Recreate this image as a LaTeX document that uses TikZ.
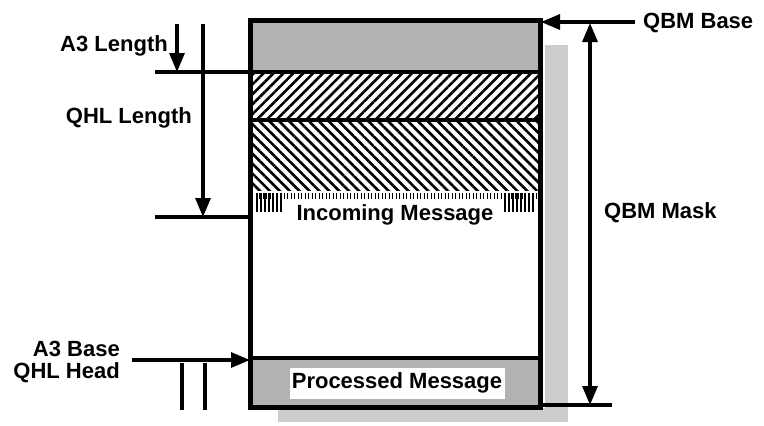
\documentclass[tikz,border=0pt]{standalone}
\usepackage{fontspec}
\setmainfont{Liberation Sans}
\usetikzlibrary{arrows.meta,patterns.meta}

\begin{document}
\begin{tikzpicture}[
  x=1pt, y=-1pt,
  lbl/.style={font=\bfseries\fontsize{22}{22}\selectfont, inner sep=0pt},
  dim/.style={line width=3.2pt},
  arr/.style={dim, -{Triangle[length=19pt,width=15pt]}},
  darr/.style={dim, {Triangle[length=19pt,width=15pt]}-{Triangle[length=19pt,width=15pt]}},
  band/.style={fill=gray!60},
  shade/.style={fill=gray!40},
  tick/.style={line width=1pt}
]
  \useasboundingbox (0,0) rectangle (764,426);

  % Shadow
  \fill[shade] (545,45) rectangle (568,422);
  \fill[shade] (278,408) rectangle (568,422);

  % Bands
  \fill[band] (250,20) rectangle (540,72);
  \fill[pattern={Lines[angle=45,distance=7pt,line width=2.6pt]}] (250,72) rectangle (540,120);
  \fill[pattern={Lines[angle=-45,distance=7pt,line width=2.6pt]}] (250,120) rectangle (540,190);
  \fill[band] (250,358) rectangle (540,407);
  \draw[line width=3.5pt] (250,72) -- (540,72);
  \draw[line width=3.5pt] (250,120) -- (540,120);
  \draw[line width=4pt] (250,358) -- (540,358);

  % Comb
  \foreach \x in {256,259.5,...,536} \draw[tick] (\x,193) -- (\x,199);
  \foreach \x in {257,261,...,283} \draw[tick, line width=1.6pt] (\x,193) -- (\x,212);
  \foreach \x in {505,509,...,534} \draw[tick, line width=1.6pt] (\x,193) -- (\x,212);

  % Box
  \node[draw, line width=5pt, minimum width=290pt, minimum height=387pt, inner sep=0pt] (mem) at (395,213.5) {};

  % Nodes
  \node[lbl] (inmsg) at (395,215) {Incoming Message};
  \node[lbl, fill=white, minimum width=215pt, minimum height=31pt] (procmsg) at (397,383) {Processed Message};
  \node[lbl, anchor=east] (a3len) at (168,46) {A3 Length};
  \node[lbl, anchor=east] (qhllen) at (192,118) {QHL Length};
  \node[lbl, anchor=east, align=right] (a3base) at (120,362) {A3 Base\\QHL Head};
  \node[lbl, anchor=west] (qbmbase) at (643,23) {QBM Base};
  \node[lbl, anchor=west] (qbmmask) at (604,213) {QBM Mask};

  % Coordinates
  \coordinate (a3top) at (177,24);
  \coordinate (a3end) at (177,72);
  \coordinate (qhltop) at (203,24);
  \coordinate (qhlend) at (203,217);
  \coordinate (lenl) at (155,72);
  \coordinate (lenr) at (250,72);
  \coordinate (incl) at (155,217);
  \coordinate (incr) at (250,217);
  \coordinate (headl) at (132,360);
  \coordinate (headr) at (250,360);
  \coordinate (tailatop) at (182,363);
  \coordinate (tailabot) at (182,410);
  \coordinate (tailbtop) at (205,363);
  \coordinate (tailbbot) at (205,410);
  \coordinate (basel) at (541,22);
  \coordinate (baser) at (635,22);
  \coordinate (masktop) at (590,23);
  \coordinate (maskbot) at (590,405);
  \coordinate (endl) at (540,405);
  \coordinate (endr) at (612,405);

  % Arrows
  \draw[arr] (a3top) -- (a3end);
  \draw[arr] (qhltop) -- (qhlend);
  \draw[dim] (lenl) -- (lenr);
  \draw[dim] (incl) -- (incr);
  \draw[arr] (headl) -- (headr);
  \draw[dim] (tailatop) -- (tailabot);
  \draw[dim] (tailbtop) -- (tailbbot);
  \draw[arr] (baser) -- (basel);
  \draw[darr] (masktop) -- (maskbot);
  \draw[dim] (endl) -- (endr);
\end{tikzpicture}
\end{document}
